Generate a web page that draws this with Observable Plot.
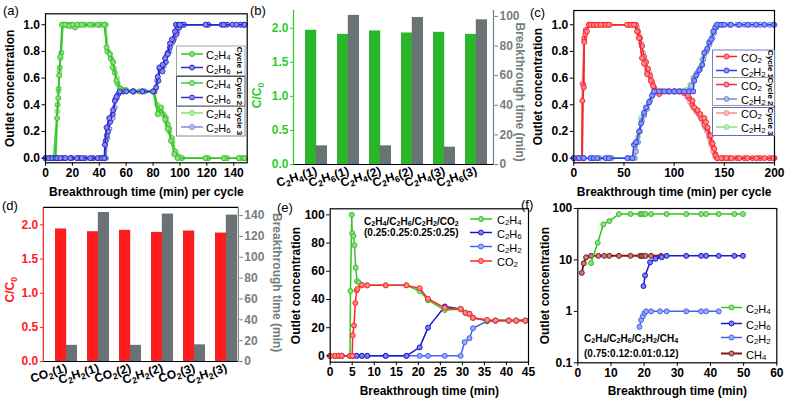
<!DOCTYPE html>
<html><head><meta charset="utf-8">
<script src="https://cdn.jsdelivr.net/npm/d3@7"></script>
<script src="https://cdn.jsdelivr.net/npm/@observablehq/plot@0.6"></script>
<style>
body{margin:0;background:#fff;}
#fig{position:relative;width:786px;height:400px;overflow:hidden;background:#fff;}
.pan{position:absolute;}
</style></head>
<body><div id="fig"></div>
<script>
// ---------------- DATA ----------------
// (a) C2H4/C2H6 cycles : [time, C/C0]
const a_C2H4_c1 = [[0,0],[2.5,0],[5,0],[7.4,0],[8.6,0.3],[9.5,0.45],[10.2,0.62],[11,0.76],[12.3,1],[14.7,1],[17.7,0.99],[20.4,1],[23.8,1],[27,1],[33,1],[38.8,1],[43.7,1],[45.4,0.83],[47.9,0.78],[50.3,0.72],[52.8,0.58],[55.3,0.52],[60,0.51],[70,0.5],[80,0.5],[83.5,0.33],[86,0.38],[89,0.29],[90.9,0.22],[93.3,0.13],[95.8,0.03],[98.2,0],[119,0],[132.6,0],[143.7,0],[148,0]];
const a_C2H6_c1 = [[0,0],[2.5,0],[4.9,0],[7.4,0],[8.6,0],[11,0],[14.7,0],[18.4,0],[23.3,0],[27,0],[33.2,0],[38.8,0],[41.8,0],[43.7,0],[44.2,0.1],[45.4,0.23],[47.4,0.3],[50.3,0.36],[51.6,0.43],[52.8,0.46],[55.3,0.5],[60,0.5],[65,0.5],[72,0.5],[80,0.5],[82.3,0.53],[83.5,0.61],[84.7,0.68],[87.2,0.7],[89,0.75],[90.9,0.78],[92.6,0.86],[94,0.89],[96.3,0.95],[97,1],[99,1],[100,1],[119,1],[131,1],[132.5,1],[139,1],[142,1],[148,1]];
const a_C2H4_c2 = [[0,0],[3,0],[6,0],[9,0.4],[9.8,0.52],[10.6,0.68],[11.8,0.79],[13,1],[16,1],[19,1],[22,0.98],[25,1],[29,1],[35,1],[40,1],[44,1],[46,0.8],[48.5,0.75],[50,0.68],[51.5,0.64],[53.5,0.56],[56,0.52],[58,0.51],[65,0.5],[72,0.5],[81,0.5],[84.2,0.35],[87.2,0.33],[89.5,0.3],[91,0.25],[92,0.22],[94,0.15],[96.5,0.05],[99,0.01],[101,0],[121,0],[135,0],[145,0],[148,0]];
const a_C2H6_c2 = [[0,0],[3,0],[6,0],[9,0],[13,0],[19,0],[25,0],[29,0],[35,0],[40,0],[44,0],[44.8,0.13],[45.6,0.17],[46.5,0.2],[48,0.27],[50,0.33],[52,0.44],[54,0.48],[56,0.5],[58,0.5],[65,0.5],[72,0.5],[81,0.5],[84,0.58],[85,0.67],[87,0.65],[89.5,0.72],[91,0.79],[92.5,0.83],[95,0.88],[97.5,0.93],[99.5,0.98],[101,1],[103,1],[121,1],[135,1],[145,1],[148,1]];
const a_C2H4_c3 = [[0,0],[4,0],[8,0],[8.8,0.35],[9.6,0.5],[10.4,0.65],[11.2,0.75],[12.5,1],[15,1],[20,0.99],[24,1],[30,1],[36,1],[42,1],[45,1],[46.5,0.8],[49,0.74],[51,0.67],[53,0.6],[55,0.53],[58,0.5],[66,0.5],[74,0.5],[80,0.5],[83,0.4],[86,0.35],[88.5,0.32],[90,0.27],[92,0.2],[94.5,0.12],[97,0.04],[99.5,0.01],[102,0],[120,0],[133,0],[146,0]];
const a_C2H6_c3 = [[0,0],[4,0],[8,0],[12,0],[15,0],[20,0],[24,0],[30,0],[36,0],[42,0],[45,0],[46,0.15],[47.5,0.22],[48.5,0.28],[50,0.3],[51.5,0.38],[53,0.45],[55,0.49],[58,0.5],[66,0.5],[74,0.5],[80,0.5],[83,0.58],[85.5,0.66],[88,0.69],[90,0.77],[92,0.8],[94,0.86],[96,0.9],[98,0.95],[100,0.99],[102,1],[120,1],[133,1],[146,1]];
const a_xticks = [0,20,40,60,80,100,120,140];
const a_yticks = [0,0.2,0.4,0.6,0.8,1.0];

// (b) bars
const b_cats = ["C₂H₄(1)","C₂H₆(1)","C₂H₄(2)","C₂H₆(2)","C₂H₄(3)","C₂H₆(3)"];
const b_ratio = [1.97,1.91,1.96,1.93,1.94,1.91];
const b_time = [12.6,100.7,12.6,99.3,11.7,97.7];
const b_yticks = [0,0.5,1.0,1.5,2.0];
const b_rticks = [0,20,40,60,80,100];

// (c) CO2/C2H2 cycles
const c_CO2_c1 = [[0,0],[5,0],[8,0],[8.5,0.43],[10,0.53],[10.5,0.87],[11.5,0.93],[13,0.95],[15,1],[17,1],[20,1],[23,1],[27,1],[32,1],[35,1],[53,1],[57,1],[60,1],[63,0.95],[65,0.9],[68,0.75],[70,0.71],[73,0.63],[76.7,0.58],[79,0.54],[81.7,0.5],[85,0.48],[88,0.5],[95,0.5],[100,0.5],[105,0.5],[110,0.49],[114,0.47],[118.3,0.43],[120,0.38],[123.3,0.36],[126,0.33],[130,0.3],[131.7,0.27],[133.3,0.23],[136.7,0.17],[138.3,0.11],[140,0.07],[141.5,0.02],[143.3,0],[147,0],[152,0],[157,0],[165,0],[173,0],[182,0],[190,0],[199,0]];
const c_C2H2_c1 = [[0,0],[5,0],[10,0],[16.7,0],[20,0],[23.3,0],[31.7,0],[35,0],[53.3,0],[58.3,0],[60,0.1],[62,0.12],[65,0.2],[67,0.26],[70,0.34],[72,0.38],[75,0.42],[78,0.47],[80,0.5],[85,0.5],[90,0.5],[95,0.5],[100,0.5],[105,0.5],[110,0.5],[115,0.5],[119,0.5],[120,0.58],[122,0.62],[125,0.66],[128,0.7],[130,0.79],[133,0.82],[135,0.87],[137,0.89],[139,0.95],[141,0.98],[143,1],[146.7,1],[150,1],[156.7,1],[165,1],[173.3,1],[181.7,1],[190,1],[199.3,1]];
const c_CO2_c2 = [[0,0],[4,0],[8.5,0],[9.5,0.55],[10.5,0.9],[12,0.96],[16,1],[19,1],[22,1],[26,1],[30,1],[34,1],[55,1],[59,1],[62,1],[64,0.95],[66,0.9],[68,0.84],[70,0.76],[72,0.72],[74,0.67],[76,0.62],[78,0.57],[80,0.53],[82,0.5],[86,0.5],[93,0.5],[100,0.5],[106,0.5],[111,0.49],[115,0.45],[118,0.4],[121,0.37],[124,0.34],[127,0.3],[130,0.25],[133,0.22],[135,0.17],[137,0.12],[139,0.08],[141,0.03],[143,0],[148,0],[155,0],[163,0],[170,0],[178,0],[186,0],[195,0],[200,0]];
const c_C2H2_c2 = [[0,0],[5,0],[10,0],[18,0],[25,0],[33,0],[37,0],[55,0],[60,0],[62,0.05],[64,0.12],[66,0.2],[68,0.28],[70,0.32],[73,0.37],[76,0.43],[79,0.48],[82,0.5],[88,0.5],[95,0.5],[102,0.5],[108,0.5],[113,0.5],[117,0.54],[120,0.6],[123,0.64],[126,0.67],[129,0.74],[132,0.8],[135,0.85],[138,0.9],[140,0.94],[142,0.98],[144,1],[148,1],[155,1],[163,1],[170,1],[178,1],[186,1],[195,1],[200,1]];
const c_CO2_c3 = [[0,0],[4,0],[8,0],[8.5,0.56],[10,0.88],[12,0.95],[15,1],[19,1],[24,1],[29,1],[36,1],[56,1],[61,1],[63,0.98],[65,0.92],[67,0.86],[69,0.79],[71,0.73],[73,0.66],[75,0.64],[77,0.59],[79,0.55],[81,0.51],[84,0.5],[91,0.5],[98,0.5],[104,0.5],[109,0.49],[113,0.46],[116,0.42],[119,0.38],[122,0.35],[125,0.32],[128,0.28],[131,0.23],[133,0.2],[135,0.15],[137,0.1],[139,0.05],[141,0.01],[143,0],[150,0],[160,0],[172,0],[184,0],[196,0]];
const c_C2H2_c3 = [[0,0],[8,0],[17,0],[26.7,0],[38.3,0],[61,0],[62,0.12],[64,0.16],[67,0.3],[70,0.33],[72,0.37],[75,0.41],[78,0.46],[81,0.5],[87,0.5],[94,0.5],[101,0.5],[107,0.5],[112,0.51],[116,0.55],[119,0.6],[122,0.63],[126,0.68],[128,0.74],[130,0.77],[133,0.82],[136,0.87],[138,0.92],[140,0.96],[142,1],[146,1],[155,1],[165,1],[175,1],[185,1],[195,1]];
const c_xticks = [0,50,100,150,200];
const c_yticks = [0,0.2,0.4,0.6,0.8,1.0];

// (d) bars
const d_cats = ["CO₂(1)","C₂H₂(1)","CO₂(2)","C₂H₂(2)","CO₂(3)","C₂H₂(3)"];
const d_ratio = [1.94,1.90,1.92,1.89,1.91,1.88];
const d_time = [15.5,143,15.5,141.5,16,140.5];
const d_yticks = [0,0.5,1.0,1.5,2.0];
const d_rticks = [0,20,40,60,80,100,120,140];

// (e) quaternary breakthrough
const e_C2H4 = [[0,0],[1.1,0],[1.9,0],[2.6,0],[4.5,0],[4.6,46],[4.9,100],[5.0,87],[5.3,85],[5.5,78.5],[5.8,62.5],[6.1,53],[6.5,52],[7.2,50],[8.4,50],[12.6,50],[17.3,50],[20.3,46],[22.2,39.5],[26,32.5],[29.6,33],[30.7,30.5],[31.6,29.5],[32.4,27],[35.6,25],[37.5,25],[40.5,25],[42.2,25],[44.3,25]];
const e_C2H6 = [[0,0],[1.1,0],[1.9,0],[2.6,0],[4.5,0],[5.1,0],[6,0],[7.2,0],[8.4,0],[12.6,0],[17.3,0],[20.3,6],[22.2,20],[26,35],[29.6,33.3],[30.7,30.5],[31.6,29.8],[32.4,27],[35.6,24.8],[37.5,25],[40.5,25],[42.2,25],[44.3,25]];
const e_C2H2 = [[0,0],[1.1,0],[1.9,0],[2.6,0],[4.5,0],[5.1,0],[6,0],[7.2,0],[8.4,0],[12.6,0],[17.3,0],[20.3,0],[22.2,0],[26,0],[29.6,0],[30.5,9.7],[31.6,12.5],[32.4,19.6],[35.6,24.6],[37.5,25],[40.5,25],[42.2,25],[44.3,25]];
const e_CO2 = [[0,0],[1.1,0],[1.9,0],[2.6,0],[4.5,0],[5.0,0],[5.1,14.5],[5.4,21.5],[5.7,37.5],[6.0,46.5],[6.2,47.5],[7.2,50.3],[8.4,50],[12.6,50],[17.3,50],[20.3,48],[22.2,40.5],[26,34],[29.6,33.3],[30.7,30.5],[31.6,29.8],[32.4,27],[35.6,25.5],[37.5,25],[40.5,25],[42.2,25],[44.3,25]];
const e_xticks = [0,5,10,15,20,25,30,35,40,45];
const e_yticks = [0,20,40,60,80,100];

// (f) quaternary breakthrough (log)
const f_C2H4 = [[4.0,8.7],[6.0,21.5],[7.7,49],[9.5,57],[12.4,78],[15.9,78],[18.8,78],[19.3,78],[19.8,78],[20.4,78],[22.1,78],[26.8,78],[32.7,78],[37.2,78],[38.7,78],[42.5,78],[47.2,78],[49.8,78]];
const f_C2H6 = [[19.8,3.1],[20.3,5],[21.8,9],[23.4,10.5],[25.3,11.3],[26.8,12],[32.7,12],[37.2,12],[38.7,12],[42.5,12],[47.2,12],[49.8,12]];
const f_C2H2 = [[18.6,0.5],[19.1,0.68],[19.6,0.8],[20.1,0.92],[20.6,1.0],[22.1,1.0],[24.8,1.0],[26.8,1.0],[32.7,1.0],[37.2,1.0],[38.7,1.0],[42.5,1.0]];
const f_CH4 = [[1.2,5.6],[1.8,8.6],[2.5,11.2],[4.0,12],[6.2,12],[8.0,12],[9.5,12],[12.4,12],[15.9,12],[18.8,12],[19.3,12],[19.8,12],[20.4,12],[22.1,12],[25.1,12]];
const f_xticks = [0,10,20,30,40,50,60];
const f_yticks = [0.1,1,10,100];

// texts
const T_outlet = "Outlet concentration";
const T_cycle = "Breakthrough time (min) per cycle";
const T_bt = "Breakthrough time (min)";
const T_cc0 = "C/C₀";
const a_legend = ["C₂H₄","C₂H₆"];
const c_legend = ["CO₂","C₂H₂"];
const cycles = ["Cycle 1","Cycle 2","Cycle 3"];
const e_legend = ["C₂H₄","C₂H₆","C₂H₂","CO₂"];
const f_legend = ["C₂H₄","C₂H₆","C₂H₂","CH₄"];
const e_note = ["C₂H₄/C₂H₆/C₂H₂/CO₂","(0.25:0.25:0.25:0.25)"];
const f_note = ["C₂H₄/C₂H₆/C₂H₂/CH₄","(0.75:0.12:0.01:0.12)"];
const panelLabels = ["(a)","(b)","(c)","(d)","(e)","(f)"];

// ---------------- STYLE ----------------
const FONT = '"Liberation Sans", Arial, Helvetica, sans-serif';
const STYLE = {fontFamily: FONT, fontSize: "12px", fontWeight: "bold", background: "transparent", overflow: "visible", color: "black"};
const GREEN = "#36c224", BLUE = "#2626d6", GREEN2 = "#40c83a", BLUE2 = "#3434c4", LGREEN = "#86e070", LBLUE = "#8088e0";
const RED = "#ff2424", BLUE_C = "#2a40f0", CRIM = "#e0304a", SLATE = "#7a86d8", PINK = "#f28a9a", LGREEN_C = "#8ae07c";
const E_C2H6 = "#1818d0", E_C2H2 = "#4262f0", CH4C = "#801818";
const BAR_G = "#2ab52a", TXT_G = "#2ccc2c", BAR_GRAY = "#6b7275", TXT_GRAY = "#75807f", BAR_R = "#ff1c1c", TXT_R = "#ff2020";

const fig = document.getElementById("fig");
const lighten = c => d3.interpolateRgb(c, "#ffffff")(0.45);
function series(data, color, sw = 1.5) {
  return [
    Plot.line(data, {x: d => d[0], y: d => d[1], stroke: color, strokeWidth: sw}),
    Plot.dot(data, {x: d => d[0], y: d => d[1], r: 2.5, stroke: color, strokeWidth: 1, fill: lighten(color)})
  ];
}
const SUBMAP = {"₀":"0","₁":"1","₂":"2","₃":"3","₄":"4","₅":"5","₆":"6","₇":"7","₈":"8","₉":"9"};
function subify(root) {
  const w = document.createTreeWalker(root, NodeFilter.SHOW_TEXT);
  const nodes = []; while (w.nextNode()) nodes.push(w.currentNode);
  for (const node of nodes) {
    const s = node.nodeValue;
    if (!/[₀-₉]/.test(s)) continue;
    const runs = [];
    for (const ch of s) {
      const sub = ch in SUBMAP; const c = sub ? SUBMAP[ch] : ch;
      if (runs.length && runs[runs.length - 1].sub === sub) runs[runs.length - 1].t += c; else runs.push({sub, t: c});
    }
    const frag = document.createDocumentFragment(); let shifted = false;
    for (const r of runs) {
      const ts = document.createElementNS("http://www.w3.org/2000/svg", "tspan");
      ts.textContent = r.t;
      if (r.sub) { ts.setAttribute("font-size", "72%"); ts.setAttribute("dy", "0.3em"); shifted = true; }
      else if (shifted) { ts.setAttribute("dy", "-0.216em"); shifted = false; }
      frag.appendChild(ts);
    }
    node.parentNode.replaceChild(frag, node);
  }
}
function mount(svg, left, top, w, h) {
  const div = document.createElement("div");
  div.className = "pan";
  Object.assign(div.style, {left: left + "px", top: top + "px", width: w + "px", height: h + "px"});
  div.appendChild(svg); fig.appendChild(div); subify(svg);
  return svg;
}
function addLine(svg, x1, y1, x2, y2, color, sw = 1.2) {
  d3.select(svg).append("line").attr("x1", x1).attr("y1", y1).attr("x2", x2).attr("y2", y2)
    .attr("stroke", color).attr("stroke-width", sw);
}
function xTitle(t, dy) { return Plot.text([t], {frameAnchor: "bottom", dy, textAnchor: "middle", lineAnchor: "middle", fontSize: 12}); }
function yTitle(t, dx, dy = 0, fill = "black") { return Plot.text([t], {frameAnchor: "left", rotate: -90, dx, dy, fill, textAnchor: "middle", lineAnchor: "middle", fontSize: 12}); }
function rTitle(t, dx, dy = 0, fill = "black") { return Plot.text([t], {frameAnchor: "right", rotate: 90, dx, dy, fill, textAnchor: "middle", lineAnchor: "middle", fontSize: 12}); }

// ---------------- (a) ----------------
mount(Plot.plot({
  width: 262, height: 200, marginLeft: 45, marginRight: 15.3, marginTop: 13.3, marginBottom: 37.7, style: STYLE,
  x: {domain: [0, 150]}, y: {domain: [-0.035, 1.082]},
  marks: [
    ...series(a_C2H4_c3, LGREEN), ...series(a_C2H6_c3, LBLUE),
    ...series(a_C2H4_c2, GREEN2), ...series(a_C2H6_c2, BLUE2),
    ...series(a_C2H4_c1, GREEN), ...series(a_C2H6_c1, BLUE),
    Plot.frame({stroke: "black", strokeWidth: 1.2}),
    Plot.axisX({ticks: a_xticks, tickSize: 3.5, tickPadding: 2, label: null}),
    Plot.axisY({ticks: a_yticks, tickFormat: d3.format(".1f"), tickSize: 3.5, tickPadding: 2, label: null}),
    xTitle(T_cycle, 29), yTitle(T_outlet, -35)
  ]
}), 0, 0, 262, 200);

// ---------------- (b) ----------------
function halfBand(W, n, pi, po) { const step = W / (n - pi + 2 * po); return step * (1 - pi) / 2; }
{
  const W = 200, pi = 0.328, po = 0.277, al = 0.62, hb = halfBand(W, b_cats.length, pi, po);
  const rows = b_cats.map((c, i) => ({cat: c, v: b_ratio[i], t: b_time[i]}));
  const xs = {domain: b_cats, paddingInner: pi, paddingOuter: po, align: al};
  const base = mount(Plot.plot({
    width: 262, height: 200, marginLeft: 31.5, marginRight: 30.5, marginTop: 10, marginBottom: 36, style: STYLE,
    x: xs, y: {domain: [0, 2.26]},
    marks: [
      Plot.barY(rows, {x: "cat", y: "v", fill: BAR_G, insetRight: hb}),
      Plot.ruleY([0], {stroke: "black", strokeWidth: 1.2}),
      Plot.axisY({ticks: b_yticks, tickFormat: d3.format(".1f"), color: TXT_G, tickSize: 3.5, tickPadding: 2, label: null}),
      Plot.axisX({tickRotate: -18, tickSize: 0, tickPadding: 6, fontSize: 12, label: null}),
      yTitle(T_cc0, -36.5, 8, TXT_G)
    ]
  }), 262, 0, 262, 200);
  addLine(base, 31.5, 10, 31.5, 164, TXT_G);
  const over = mount(Plot.plot({
    width: 262, height: 200, marginLeft: 31.5, marginRight: 30.5, marginTop: 10, marginBottom: 36, style: STYLE,
    x: {...xs, axis: null}, y: {domain: [0, 104]},
    marks: [
      Plot.barY(rows, {x: "cat", y: "t", fill: BAR_GRAY, insetLeft: hb}),
      Plot.axisY({anchor: "right", ticks: b_rticks, color: TXT_GRAY, tickSize: 3.5, tickPadding: 2, label: null}),
      rTitle(T_bt, 25.5, 4.7, TXT_GRAY)
    ]
  }), 262, 0, 262, 200);
  addLine(over, 231.5, 10, 231.5, 164, TXT_GRAY);
}

// ---------------- (c) ----------------
mount(Plot.plot({
  width: 262, height: 200, marginLeft: 49.3, marginRight: 12, marginTop: 10, marginBottom: 37.7, style: STYLE,
  x: {domain: [0, 200]}, y: {domain: [-0.035, 1.107]},
  marks: [
    ...series(c_CO2_c3, PINK), ...series(c_C2H2_c3, LGREEN_C),
    ...series(c_CO2_c2, CRIM), ...series(c_C2H2_c2, SLATE),
    ...series(c_CO2_c1, RED), ...series(c_C2H2_c1, BLUE_C),
    Plot.frame({stroke: "black", strokeWidth: 1.2}),
    Plot.axisX({ticks: c_xticks, tickSize: 3.5, tickPadding: 2, label: null}),
    Plot.axisY({ticks: c_yticks, tickFormat: d3.format(".1f"), tickSize: 3.5, tickPadding: 2, label: null}),
    xTitle(T_cycle, 29), yTitle(T_outlet, -36)
  ]
}), 524, 0, 262, 200);

// ---------------- (d) ----------------
{
  const W = 195, pi = 0.328, po = 0.192, al = 0.88, hb = halfBand(W, d_cats.length, pi, po);
  const rows = d_cats.map((c, i) => ({cat: c, v: d_ratio[i], t: d_time[i]}));
  const xs = {domain: d_cats, paddingInner: pi, paddingOuter: po, align: al};
  const base = mount(Plot.plot({
    width: 262, height: 200, marginLeft: 43.3, marginRight: 23.7, marginTop: 7.3, marginBottom: 39, style: STYLE,
    x: xs, y: {domain: [0, 2.25]},
    marks: [
      Plot.barY(rows, {x: "cat", y: "v", fill: BAR_R, insetRight: hb}),
      Plot.ruleY([0], {stroke: "black", strokeWidth: 1.2}),
      Plot.axisY({ticks: d_yticks, tickFormat: d3.format(".1f"), color: TXT_R, tickSize: 3.5, tickPadding: 2, label: null}),
      Plot.axisX({tickRotate: -18, tickSize: 0, tickPadding: 6, fontSize: 12, label: null}),
      yTitle(T_cc0, -33.3, 5, TXT_R)
    ]
  }), 0, 200, 262, 200);
  addLine(base, 43.3, 7.3, 43.3, 161, TXT_R);
  addLine(base, 43.3, 7.3, 238.3, 7.3, "black");
  const over = mount(Plot.plot({
    width: 262, height: 200, marginLeft: 43.3, marginRight: 23.7, marginTop: 7.3, marginBottom: 39, style: STYLE,
    x: {...xs, axis: null}, y: {domain: [0, 147.5]},
    marks: [
      Plot.barY(rows, {x: "cat", y: "t", fill: BAR_GRAY, insetLeft: hb}),
      Plot.axisY({anchor: "right", ticks: d_rticks, color: TXT_GRAY, tickSize: 3.5, tickPadding: 2, label: null}),
      rTitle(T_bt, 37.7, -2, TXT_GRAY)
    ]
  }), 0, 200, 262, 200);
  addLine(over, 238.3, 7.3, 238.3, 161, TXT_GRAY);
}

// ---------------- (e) ----------------
mount(Plot.plot({
  width: 270, height: 200, marginLeft: 67.7, marginRight: 4, marginTop: 8.3, marginBottom: 38.3, style: STYLE,
  x: {domain: [0, 45]}, y: {domain: [-4.5, 104.3]},
  marks: [
    ...series(e_C2H2, E_C2H2), ...series(e_C2H6, E_C2H6),
    ...series(e_C2H4, GREEN), ...series(e_CO2, RED),
    Plot.frame({stroke: "black", strokeWidth: 1.2}),
    Plot.axisX({ticks: e_xticks, tickSize: 3.5, tickPadding: 2, label: null}),
    Plot.axisY({ticks: e_yticks, tickSize: 3.5, tickPadding: 2, label: null}),
    xTitle(T_bt, 29), yTitle(T_outlet, -34.4)
  ]
}), 262, 200, 270, 200);

// ---------------- (f) ----------------
mount(Plot.plot({
  width: 262, height: 200, marginLeft: 53.3, marginRight: 9.7, marginTop: 8, marginBottom: 37.7, style: STYLE,
  x: {domain: [0, 60]}, y: {type: "log", domain: [0.1, 100]},
  marks: [
    ...series(f_CH4, CH4C, 2), ...series(f_C2H2, E_C2H2),
    ...series(f_C2H6, E_C2H6), ...series(f_C2H4, GREEN),
    Plot.frame({stroke: "black", strokeWidth: 1.2}),
    Plot.axisX({ticks: f_xticks, tickSize: 3.5, tickPadding: 2, label: null}),
    Plot.axisY({ticks: f_yticks, tickFormat: d3.format("~g"), tickSize: 3.5, tickPadding: 2, label: null}),
    xTitle(T_bt, 28.5), yTitle(T_outlet, -32.6)
  ]
}), 524, 200, 262, 200);

// ---------------- overlay: legends, notes, panel labels ----------------
const ov = d3.select(fig).append("svg").attr("width", 786).attr("height", 400)
  .style("position", "absolute").style("left", 0).style("top", 0).style("font-family", FONT);
function swatch(x1, x2, y, color, sw = 1.5) {
  ov.append("line").attr("x1", x1).attr("x2", x2).attr("y1", y).attr("y2", y).attr("stroke", color).attr("stroke-width", sw);
  ov.append("circle").attr("cx", (x1 + x2) / 2).attr("cy", y).attr("r", 2.5).attr("stroke", color).attr("stroke-width", 1).attr("fill", lighten(color));
}
function label(x, y, t, opts = {}) {
  const el = ov.append("text").attr("x", x).attr("y", y).attr("dominant-baseline", "central")
    .attr("font-size", opts.size || 11).attr("font-weight", opts.weight || "normal").attr("fill", opts.fill || "black").text(t);
  if (opts.rotate) el.attr("transform", `rotate(${opts.rotate},${x},${y})`).attr("text-anchor", "middle");
  return el;
}
// (a) legend
{
  const tops = [46, 76.5, 106.5], h = 29.5, rowsY = [[54, 67.5], [83, 97.5], [113, 127]];
  const cols = [[GREEN, BLUE], [GREEN2, BLUE2], [LGREEN, LBLUE]];
  const strokes = ["#a0a4aa", "#555", "#8a8a8a"];
  tops.forEach((t, k) => {
    ov.append("rect").attr("x", 176.5).attr("y", t).attr("width", 68.5).attr("height", h).attr("fill", "white").attr("stroke", strokes[k]).attr("stroke-width", 1);
    a_legend.forEach((name, j) => { swatch(181, 203, rowsY[k][j], cols[k][j]); label(206, rowsY[k][j] + 1, name); });
    label(239.5, t + h / 2, cycles[k], {size: 8, weight: "bold", rotate: 90});
  });
}
// (c) legend
{
  const tops = [50, 77.5, 107.5], h = 28, rowsY = [[56.5, 70.5], [84.5, 99], [113, 127]];
  const cols = [[RED, BLUE_C], [CRIM, SLATE], [PINK, LGREEN_C]];
  const strokes = ["#7080c0", "#999", "#6070c0"];
  tops.forEach((t, k) => {
    ov.append("rect").attr("x", 712.5).attr("y", t).attr("width", 62).attr("height", h).attr("fill", "white").attr("stroke", strokes[k]).attr("stroke-width", 1);
    c_legend.forEach((name, j) => { swatch(716, 737, rowsY[k][j], cols[k][j]); label(741, rowsY[k][j] + 1, name); });
    label(770.5, t + h / 2, cycles[k], {size: 8, weight: "bold", rotate: 90});
  });
}
// (e) legend + note
{
  const ys = [219, 232.5, 246.5, 261], cols = [GREEN, E_C2H6, E_C2H2, RED];
  e_legend.forEach((n, i) => { swatch(470, 492, ys[i], cols[i]); label(497, ys[i] + 1, n); });
  e_note.forEach((n, i) => label(364, [221, 232.5][i], n, {size: 10, weight: "bold"}));
}
// (f) legend + note
{
  const ys = [307.5, 323.5, 337.5, 353.5], cols = [GREEN, E_C2H6, E_C2H2, CH4C];
  f_legend.forEach((n, i) => { swatch(721, 742, ys[i], cols[i], i === 3 ? 2 : 1.5); label(746, ys[i] + 1, n); });
  f_note.forEach((n, i) => label(584, [337.5, 353][i], n, {size: 10, weight: "bold"}));
}
// panel labels
const plPos = [[3, 10], [250, 10], [530, 12], [2, 205], [277, 207], [521, 204]];
panelLabels.forEach((t, i) => label(plPos[i][0], plPos[i][1], t, {size: 13}));
subify(ov.node());
</script>
</body></html>
